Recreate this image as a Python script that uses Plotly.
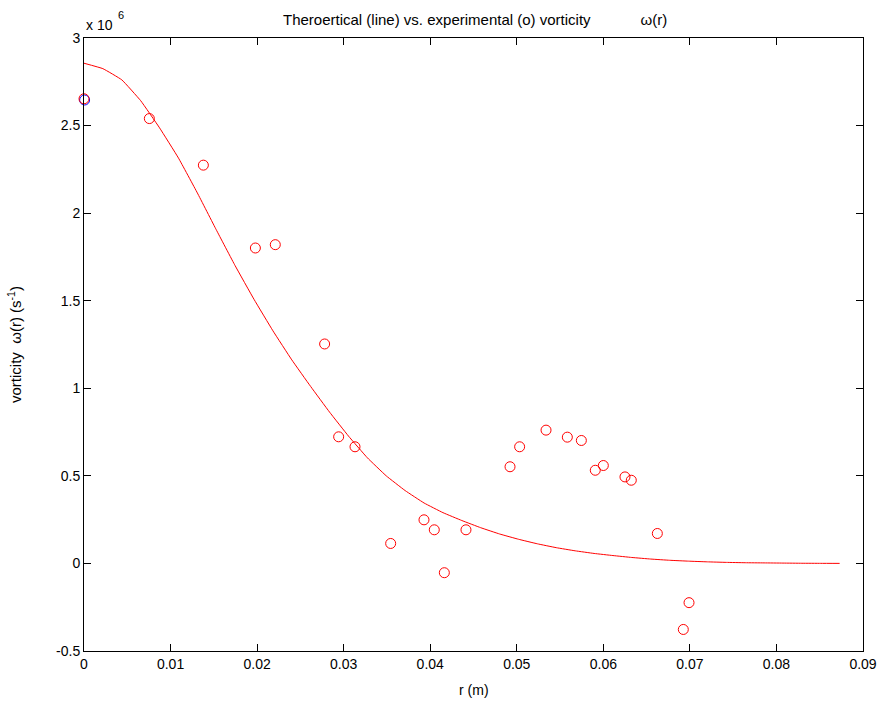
import plotly.graph_objects as go

# Experimental vorticity points (r in m, omega in units of 1e6 s^-1)
exp_r = [0.0, 0.00755, 0.01379, 0.0198, 0.0221, 0.0278, 0.02942, 0.03131,
         0.03543, 0.03928, 0.04047, 0.04163, 0.04413, 0.04922, 0.05033,
         0.05338, 0.05584, 0.05746, 0.05907, 0.0600, 0.0625, 0.06323,
         0.06624, 0.06924, 0.0699]
exp_w = [2.653, 2.540, 2.274, 1.801, 1.820, 1.253, 0.723, 0.666,
         0.114, 0.249, 0.192, -0.053, 0.192, 0.552, 0.666,
         0.761, 0.721, 0.702, 0.532, 0.559, 0.494, 0.475,
         0.171, -0.377, -0.224]

# Blue marker partially hidden under the first red circle
blue_r = [0.00007]
blue_w = [2.646]

# Theoretical curve
theo_r = [0.0, 0.00218, 0.00437, 0.00655, 0.00873, 0.01091, 0.0131, 0.01528,
          0.01746, 0.01964, 0.02183, 0.02401, 0.02619, 0.02837, 0.03056,
          0.03274, 0.03492, 0.0371, 0.03929, 0.04147, 0.04365, 0.04583,
          0.04802, 0.0502, 0.05238, 0.05456, 0.05675, 0.05893, 0.06111,
          0.06329, 0.06548, 0.06766, 0.06984, 0.07202, 0.07421, 0.07639,
          0.07857, 0.08075, 0.08294, 0.08512, 0.0873]
theo_w = [2.856, 2.825, 2.761, 2.642, 2.487, 2.315, 2.115, 1.905, 1.700,
          1.508, 1.328, 1.162, 1.010, 0.864, 0.727, 0.603, 0.500, 0.416,
          0.345, 0.290, 0.245, 0.204, 0.168, 0.138, 0.112, 0.090, 0.072,
          0.057, 0.045, 0.034, 0.025, 0.018, 0.013, 0.009, 0.006, 0.004,
          0.003, 0.002, 0.001, 0.0005, 0.0003]

x_ticks = [0, 0.01, 0.02, 0.03, 0.04, 0.05, 0.06, 0.07, 0.08, 0.09]
x_ticktext = ["0", "0.01", "0.02", "0.03", "0.04", "0.05", "0.06", "0.07", "0.08", "0.09"]
y_ticks = [-0.5, 0, 0.5, 1, 1.5, 2, 2.5, 3]
y_ticktext = ["-0.5", "0", "0.5", "1", "1.5", "2", "2.5", "3"]

FONT = "Liberation Sans, Arial, sans-serif"
W, H = 877, 702

fig = go.Figure()
fig.add_trace(go.Scatter(x=theo_r, y=theo_w, mode="lines",
                         line=dict(color="#ff0000", width=1, shape="spline", smoothing=0.3),
                         showlegend=False, cliponaxis=False))
fig.add_trace(go.Scatter(x=blue_r, y=blue_w, mode="markers",
                         marker=dict(symbol="circle-open", size=10,
                                     line=dict(color="#0000ff", width=1), color="#0000ff"),
                         showlegend=False, cliponaxis=False))
fig.add_trace(go.Scatter(x=exp_r, y=exp_w, mode="markers",
                         marker=dict(symbol="circle-open", size=10,
                                     line=dict(color="#ff0000", width=1), color="#ff0000"),
                         showlegend=False, cliponaxis=False))

axis_common = dict(showgrid=False, zeroline=False, showline=True, linecolor="black",
                   linewidth=1, mirror="allticks", ticks="inside", ticklen=7,
                   tickwidth=1, tickcolor="black", automargin=False,
                   tickfont=dict(family=FONT, size=14, color="black"))

fig.update_xaxes(range=[0, 0.09], tickvals=x_ticks, ticktext=x_ticktext, **axis_common)
fig.update_yaxes(range=[-0.5, 3], tickvals=y_ticks, ticktext=y_ticktext, **axis_common)

ann = [
    dict(text="Theroertical (line) vs. experimental (o) vorticity" + "\u00a0" * 12 + "ω(r)",
         x=0.502, y=1.0294, font=dict(size=15)),
    dict(text="r (m)", x=0.5, y=-0.0636, font=dict(size=14)),
    dict(text="vorticity\u00a0\u00a0ω(r) (s<sup>-1</sup>)", x=-0.0899, y=0.5008,
         textangle=-90, font=dict(size=15)),
    dict(text="x 10", x=0.0, y=1.0212, xanchor="left", font=dict(size=14)),
    dict(text="6", x=0.0411, y=1.0375, xanchor="left", font=dict(size=11)),
]
for a in ann:
    a.setdefault("xanchor", "center")
    a["font"]["family"] = FONT
    a["font"]["color"] = "black"
    fig.add_annotation(xref="paper", yref="paper", showarrow=False, yanchor="middle", **a)

fig.update_layout(width=W, height=H, autosize=False,
                  margin=dict(l=84, r=14, t=38, b=51, autoexpand=False),
                  paper_bgcolor="white", plot_bgcolor="white",
                  font=dict(family=FONT, color="black"))

post = """
document.body.style.margin = '0';
document.body.style.overflow = 'hidden';
var gd = document.getElementById('{plot_id}');
Plotly.relayout(gd, {width: %d, height: %d});
""" % (W, H)

fig.write_html("out.html", config={"responsive": False, "displayModeBar": False},
               post_script=post)
